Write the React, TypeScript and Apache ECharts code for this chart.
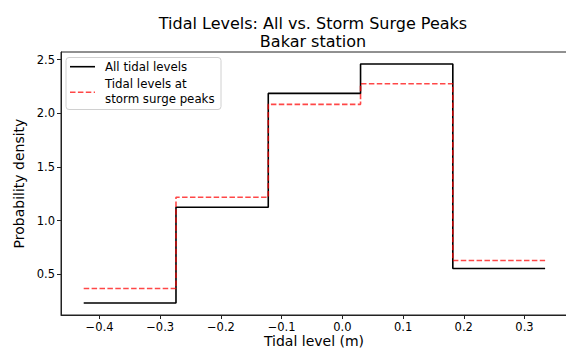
import React, { useEffect, useRef } from 'react';
import * as echarts from 'echarts';

const binEdges = [-0.426, -0.274, -0.122, 0.03, 0.182, 0.334];
const allDensity = [0.234, 1.126, 2.185, 2.459, 0.556];
const surgeDensity = [0.37, 1.219, 2.083, 2.274, 0.63];
const xTicks = [-0.4, -0.3, -0.2, -0.1, 0, 0.1, 0.2, 0.3];
const yTicks = [0.5, 1.0, 1.5, 2.0, 2.5];
const seriesNames = ['All tidal levels', 'Tidal levels at\nstorm surge peaks'];
const titleLines = ['Tidal Levels: All vs. Storm Surge Peaks', 'Bakar station'];
const xLabel = 'Tidal level (m)';
const yLabel = 'Probability density';

const FONT = 'DejaVu Sans';

function stairs(values: number[]): number[][] {
  const pts = values.map((v, i) => [binEdges[i], v]);
  pts.push([binEdges[binEdges.length - 1], values[values.length - 1]]);
  return pts;
}

function fmt(v: number): string {
  const s = Math.abs(v).toFixed(1);
  return v < -1e-9 ? '\u2212' + s : s;
}

export default function App() {
  const ref = useRef<HTMLDivElement>(null);
  useEffect(() => {
    if (!ref.current) return;
    const chart = echarts.init(ref.current, undefined, { renderer: 'svg' });
    const xMin = -0.4634;
    const xMax = 0.3717;
    const yMin = 0.123;
    const yMax = 2.57;
    chart.setOption({
      animation: false,
      backgroundColor: '#ffffff',
      grid: {
        left: 61,
        top: 52,
        width: 507,
        height: 263,
        show: true,
        borderColor: '#222',
        borderWidth: 1,
        backgroundColor: 'transparent',
        containLabel: false,
        outerBoundsMode: 'none',
      },
      xAxis: {
        type: 'value',
        min: xMin,
        max: xMax,
        axisLine: { show: true, onZero: false, lineStyle: { color: '#222', width: 1 } },
        axisTick: { show: true, inside: false, length: 4, customValues: xTicks, lineStyle: { color: '#222' } },
        axisLabel: {
          customValues: xTicks,
          formatter: (v: number) => fmt(v),
          fontFamily: FONT,
          fontSize: 11.5,
          color: '#000',
          margin: 6,
        },
        splitLine: { show: false },
      },
      yAxis: {
        type: 'value',
        min: yMin,
        max: yMax,
        name: yLabel,
        nameLocation: 'middle',
        nameGap: 29,
        nameRotate: 90,
        nameTextStyle: { fontFamily: FONT, fontSize: 14, color: '#000' },
        axisLine: { show: true, onZero: false, lineStyle: { color: '#222', width: 1 } },
        axisTick: { show: true, inside: false, length: 4, customValues: yTicks, lineStyle: { color: '#222' } },
        axisLabel: {
          customValues: yTicks,
          formatter: (v: number) => fmt(v),
          fontFamily: FONT,
          fontSize: 11.5,
          color: '#000',
          margin: 6,
        },
        splitLine: { show: false },
      },
      series: [
        {
          name: seriesNames[0],
          type: 'line',
          step: 'end',
          data: stairs(allDensity),
          showSymbol: false,
          symbol: 'none',
          lineStyle: { color: '#000', width: 1.6 },
          z: 2,
        },
        {
          name: seriesNames[1],
          type: 'line',
          step: 'end',
          data: stairs(surgeDensity),
          showSymbol: false,
          symbol: 'none',
          lineStyle: { color: 'rgba(255,0,0,0.72)', width: 1.6, type: [5.5, 2.4] },
          z: 3,
        },
      ],
      graphic: [
        {
          type: 'text',
          x: 313,
          y: 23.5,
          z: 100,
          style: {
            text: titleLines[0],
            fontFamily: FONT,
            fontSize: 16,
            fill: '#000',
            align: 'center',
            verticalAlign: 'middle',
          },
        },
        {
          type: 'text',
          x: 313,
          y: 41.5,
          z: 100,
          style: {
            text: titleLines[1],
            fontFamily: FONT,
            fontSize: 16,
            fill: '#000',
            align: 'center',
            verticalAlign: 'middle',
          },
        },
        {
          type: 'text',
          x: 314,
          y: 341.3,
          z: 100,
          style: {
            text: xLabel,
            fontFamily: FONT,
            fontSize: 14,
            fill: '#000',
            align: 'center',
            verticalAlign: 'middle',
          },
        },
        {
          type: 'group',
          z: 100,
          children: [
            {
              type: 'rect',
              shape: { x: 66, y: 57.5, width: 155, height: 52, r: 3 },
              style: { fill: 'rgba(255,255,255,0.8)', stroke: '#d0d0d0', lineWidth: 1 },
            },
            {
              type: 'line',
              shape: { x1: 70, y1: 66.7, x2: 95, y2: 66.7 },
              style: { stroke: '#000', lineWidth: 1.6 },
            },
            {
              type: 'text',
              x: 105,
              y: 66.7,
              style: {
                text: seriesNames[0],
                fontFamily: FONT,
                fontSize: 11.8,
                fill: '#000',
                verticalAlign: 'middle',
              },
            },
            {
              type: 'line',
              shape: { x1: 70, y1: 92.3, x2: 95, y2: 92.3 },
              style: { stroke: 'rgba(255,0,0,0.72)', lineWidth: 1.6, lineDash: [5.5, 2.4] },
            },
            {
              type: 'text',
              x: 105,
              y: 91.5,
              style: {
                text: seriesNames[1],
                fontFamily: FONT,
                fontSize: 11.8,
                lineHeight: 14.5,
                fill: '#000',
                verticalAlign: 'middle',
              },
            },
          ],
        },
      ],
    });
    return () => chart.dispose();
  }, []);
  return (
    <div
      ref={ref}
      style={{ position: 'fixed', left: 0, top: 0, width: 566, height: 349, background: '#fff' }}
    />
  );
}
